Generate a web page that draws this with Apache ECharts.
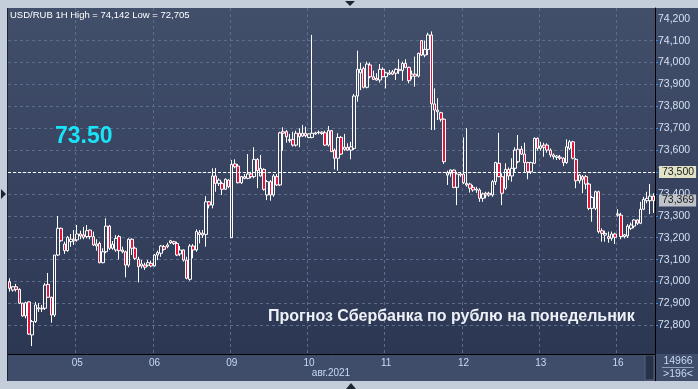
<!DOCTYPE html>
<html><head><meta charset="utf-8">
<script src="https://cdn.jsdelivr.net/npm/echarts@6/dist/echarts.min.js"></script>
<style>html,body{margin:0;padding:0;background:#c4cedb;}#c{width:698px;height:389px;}</style>
</head><body><div id="c"></div><script>
const opens=[72.999,72.961,72.976,72.964,72.901,72.843,72.907,72.756,72.817,72.875,72.878,72.878,72.987,72.928,72.847,73.121,73.243,73.171,73.141,73.182,73.193,73.190,73.217,73.213,73.205,73.235,73.205,73.162,73.174,73.086,73.136,73.253,73.152,73.144,73.205,73.144,73.136,73.075,73.193,73.152,73.101,73.071,73.075,73.075,73.083,73.071,73.121,73.129,73.159,73.159,73.177,73.182,73.174,73.126,73.144,73.098,73.010,73.162,73.144,73.223,73.212,73.215,73.364,73.349,73.482,73.448,73.448,73.421,73.463,73.200,73.537,73.527,73.451,73.479,73.471,73.491,73.479,73.558,73.482,73.512,73.395,73.456,73.395,73.479,73.441,73.684,73.684,73.649,73.649,73.623,73.677,73.664,73.677,73.658,73.658,73.674,73.679,73.682,73.679,73.623,73.689,73.600,73.563,73.658,73.604,73.613,73.600,73.608,73.847,73.953,73.973,73.887,73.989,73.935,73.928,73.920,73.969,73.935,73.947,73.958,73.951,73.969,73.963,73.996,73.978,73.938,73.947,73.938,74.100,74.034,74.060,74.126,73.811,73.783,73.771,73.741,73.486,73.494,73.509,73.430,73.491,73.491,73.448,73.445,73.430,73.418,73.418,73.380,73.403,73.395,73.395,73.456,73.540,73.479,73.426,73.512,73.482,73.517,73.547,73.604,73.582,73.543,73.501,73.540,73.654,73.608,73.623,73.623,73.600,73.578,73.567,73.568,73.563,73.543,73.608,73.638,73.558,73.460,73.479,73.479,73.445,73.334,73.334,73.410,73.232,73.212,73.205,73.197,73.217,73.303,73.303,73.205,73.208,73.243,73.253,73.281,73.266,73.330,73.369,73.369,73.390];
const closes=[72.969,72.976,72.964,72.901,72.843,72.903,72.760,72.817,72.893,72.880,72.875,72.984,72.928,72.847,73.121,73.243,73.186,73.141,73.202,73.193,73.186,73.217,73.208,73.202,73.232,73.205,73.167,73.171,73.086,73.136,73.253,73.152,73.170,73.197,73.141,73.136,73.075,73.193,73.152,73.106,73.068,73.080,73.065,73.086,73.071,73.121,73.132,73.162,73.147,73.167,73.186,73.174,73.121,73.144,73.098,73.015,73.162,73.144,73.228,73.215,73.220,73.364,73.349,73.482,73.448,73.463,73.421,73.467,73.433,73.535,73.524,73.451,73.479,73.471,73.491,73.479,73.558,73.506,73.517,73.421,73.456,73.395,73.482,73.441,73.679,73.677,73.661,73.643,73.623,73.677,73.661,73.677,73.666,73.674,73.677,73.679,73.682,73.676,73.623,73.689,73.593,73.563,73.658,73.582,73.613,73.600,73.615,73.847,73.969,73.969,73.887,73.993,73.935,73.923,73.920,73.969,73.935,73.953,73.953,73.947,73.969,73.963,73.996,73.978,73.917,73.947,73.938,74.042,74.034,74.060,74.126,73.811,73.783,73.775,73.741,73.547,73.497,73.509,73.430,73.491,73.486,73.451,73.441,73.426,73.418,73.422,73.380,73.400,73.395,73.403,73.456,73.543,73.479,73.403,73.512,73.482,73.517,73.600,73.604,73.582,73.543,73.501,73.543,73.654,73.608,73.619,73.613,73.600,73.578,73.570,73.573,73.563,73.543,73.615,73.638,73.563,73.460,73.486,73.467,73.445,73.334,73.384,73.410,73.228,73.220,73.220,73.197,73.217,73.202,73.308,73.205,73.213,73.253,73.258,73.281,73.266,73.330,73.375,73.380,73.390,73.369];
const lows=[72.954,72.954,72.954,72.897,72.839,72.832,72.756,72.705,72.811,72.861,72.861,72.870,72.925,72.812,72.838,73.116,73.182,73.126,73.136,73.159,73.167,73.182,73.193,73.193,73.197,73.193,73.162,73.141,73.083,73.083,73.129,73.144,73.145,73.136,73.101,73.129,73.019,73.065,73.121,73.098,72.996,73.060,73.053,73.068,73.065,73.068,73.098,73.113,73.141,73.152,73.171,73.167,73.116,73.116,73.091,73.010,73.004,73.106,73.136,73.174,73.199,73.159,73.334,73.334,73.410,73.436,73.395,73.418,73.426,73.199,73.517,73.448,73.445,73.467,73.467,73.471,73.471,73.426,73.479,73.415,73.372,73.369,73.387,73.436,73.436,73.597,73.634,73.634,73.616,73.616,73.613,73.661,73.658,73.654,73.654,73.670,73.672,73.670,73.619,73.616,73.593,73.512,73.506,73.578,73.597,73.597,73.558,73.600,73.821,73.874,73.882,73.882,73.928,73.920,73.917,73.908,73.932,73.882,73.943,73.943,73.920,73.948,73.917,73.974,73.905,73.923,73.890,73.932,74.030,74.024,74.034,73.692,73.692,73.737,73.730,73.537,73.441,73.479,73.426,73.349,73.478,73.445,73.433,73.406,73.410,73.405,73.364,73.364,73.380,73.387,73.387,73.441,73.476,73.349,73.418,73.463,73.456,73.501,73.540,73.578,73.501,73.467,73.491,73.537,73.597,73.597,73.570,73.588,73.567,73.558,73.555,73.555,73.527,73.537,73.600,73.558,73.426,73.448,73.403,73.421,73.326,73.273,73.326,73.220,73.182,73.182,73.177,73.186,73.171,73.296,73.193,73.197,73.199,73.235,73.243,73.258,73.262,73.326,73.357,73.308,73.313];
const highs=[73.015,72.979,72.989,72.969,72.903,72.908,72.910,72.824,72.907,72.902,72.893,72.993,73.039,72.931,73.121,73.299,73.246,73.182,73.208,73.217,73.235,73.258,73.232,73.250,73.258,73.238,73.228,73.193,73.182,73.152,73.289,73.258,73.185,73.212,73.212,73.159,73.141,73.197,73.197,73.159,73.113,73.098,73.086,73.098,73.095,73.126,73.141,73.167,73.167,73.177,73.190,73.186,73.182,73.162,73.147,73.113,73.171,73.171,73.238,73.235,73.235,73.390,73.368,73.517,73.518,73.471,73.456,73.471,73.467,73.555,73.558,73.537,73.482,73.491,73.582,73.501,73.613,73.563,73.578,73.517,73.463,73.463,73.491,73.491,73.684,73.704,73.692,73.674,73.684,73.689,73.700,73.715,73.707,73.677,74.126,73.684,73.689,73.686,73.689,73.710,73.692,73.608,73.677,73.664,73.674,73.631,73.638,73.856,74.054,73.999,73.981,74.004,73.999,73.963,73.951,73.993,73.978,73.958,73.966,73.966,73.974,74.015,74.004,74.015,73.981,73.963,74.027,74.045,74.103,74.100,74.136,74.142,73.882,73.837,73.775,73.745,73.506,73.512,73.512,73.501,73.497,73.658,73.700,73.451,73.441,73.432,73.426,73.406,73.410,73.410,73.463,73.547,73.679,73.494,73.540,73.521,73.563,73.613,73.669,73.619,73.634,73.547,73.547,73.658,73.658,73.638,73.634,73.631,73.608,73.585,73.578,73.578,73.567,73.649,73.646,73.643,73.563,73.491,73.486,73.486,73.451,73.390,73.415,73.415,73.243,73.232,73.228,73.228,73.223,73.330,73.314,73.217,73.262,73.269,73.284,73.284,73.364,73.387,73.410,73.445,73.403];
const dayLabels=['05','06','09','10','11','12','13','16'];
const dayStarts=[21,45,69,93,117,141,165,189];
const priceTicks=[72.8,72.9,73.0,73.1,73.2,73.3,73.4,73.5,73.6,73.7,73.8,73.9,74.0,74.1,74.2];
const gridTicks=[72.8,72.9,73.0,73.1,73.2,73.3,73.4,73.5,73.6,73.7,73.8,73.9,74.0,74.1];
const refLevel=73.5;
const lastPrice=73.369;
const titleText='USD/RUB 1H High = 74,142 Low = 72,705';
const bigLabel='73.50';
const caption='Прогноз Сбербанка по рублю на понедельник';
const barCountText='14966';
const visibleText='>196<';
const axisYearText='авг.2021';

const cats=opens.map((_,i)=>String(i));
const ohlc=opens.map((o,i)=>[o,closes[i],lows[i],highs[i]]);
const fmt=v=>v.toFixed(3).replace('.',',');
const isDay=i=>dayStarts.indexOf(i)>=0;

const chart=echarts.init(document.getElementById('c'),null,{renderer:'canvas'});
const font='"Liberation Sans", Arial, sans-serif';
chart.setOption({
  animation:false,
  backgroundColor:'#c4cedb',
  grid:{left:8,top:8,width:647,height:346,containLabel:false},
  xAxis:{type:'category',data:cats,boundaryGap:true,
    axisLine:{show:true,lineStyle:{color:'#000',width:1}},
    axisTick:{show:false},
    axisLabel:{interval:(i)=>isDay(i),formatter:(v,i)=>dayLabels[dayStarts.indexOf(Number(v))]||'',color:'#c6dbf5',fontSize:10,fontFamily:font,margin:4},
    splitLine:{show:true,interval:(i)=>isDay(i),lineStyle:{color:'#5c6c8b',type:[3,3],width:1}}},
  yAxis:{type:'value',position:'right',min:72.669,max:74.249,scale:true,
    axisLine:{show:true,lineStyle:{color:'#000',width:1}},
    axisTick:{show:true,customValues:gridTicks,length:3,lineStyle:{color:'#3d8df0'}},
    axisLabel:{customValues:priceTicks,formatter:fmt,color:'#d2e0f2',fontSize:10.5,fontFamily:font,margin:3},
    splitLine:{show:true,lineStyle:{color:'#5c6c8b',type:[3,3],width:1}}},
  series:[{type:'candlestick',data:ohlc,barWidth:3,
    itemStyle:{color:'rgba(0,0,0,0)',color0:'#e3133b',borderColor:'#ffffff',borderColor0:'#ffffff',borderWidth:1},
    markLine:{symbol:'none',silent:true,animation:false,
      data:[
        {yAxis:refLevel,lineStyle:{color:'#ffffff',type:[3,2],width:1},
          label:{show:true,position:'end',formatter:()=>fmt(refLevel),backgroundColor:'#e2e2c6',color:'#1a1a1a',padding:[1,2,0,3],fontSize:10.5,fontFamily:font,distance:4}},
        {yAxis:lastPrice,lineStyle:{color:'rgba(0,0,0,0)',width:0},
          label:{show:true,position:'end',formatter:()=>fmt(lastPrice),backgroundColor:'#bfc3c9',color:'#1a1a1a',padding:[1,2,0,3],fontSize:10.5,fontFamily:font,distance:4}}
      ]}
  }],
  graphic:[
    {type:'rect',z:-20,silent:true,shape:{x:8,y:8,width:690,height:346},
      style:{fill:new echarts.graphic.LinearGradient(0,0,0,1,[{offset:0,color:'#424f6b'},{offset:1,color:'#2c3754'}])}},
    {type:'rect',z:-19,silent:true,shape:{x:8,y:354,width:690,height:27},style:{fill:'#3f4d6a'}},
    {type:'rect',z:-18,silent:true,shape:{x:645,y:355,width:9,height:25},style:{fill:'#26314a',stroke:'#56637d',lineWidth:1}},
    {type:'line',z:10,silent:true,shape:{x1:655.5,y1:8,x2:655.5,y2:381},style:{stroke:'#000',lineWidth:1}},
    {type:'line',z:10,silent:true,shape:{x1:7.5,y1:8,x2:7.5,y2:381},style:{stroke:'#1c2436',lineWidth:1}},
    {type:'line',z:10,silent:true,shape:{x1:662,y1:367.5,x2:694,y2:367.5},style:{stroke:'#8fa0b8',lineWidth:1}},
    {type:'polygon',z:30,silent:true,shape:{points:[[659,172],[664,167],[664,177]]},style:{fill:'#e2e2c6'}},
    {type:'polygon',z:30,silent:true,shape:{points:[[659,201],[664,196],[664,206]]},style:{fill:'#bfc3c9'}},
    {type:'text',z:20,silent:true,style:{x:331,y:373,text:axisYearText,fill:'#c6dbf5',font:'10px '+font,textAlign:'center',textVerticalAlign:'middle'}},
    {type:'text',z:20,silent:true,style:{x:678,y:361,text:barCountText,fill:'#c6dbf5',font:'10.5px '+font,textAlign:'center',textVerticalAlign:'middle'}},
    {type:'text',z:20,silent:true,style:{x:678,y:374,text:visibleText,fill:'#c6dbf5',font:'10.5px '+font,textAlign:'center',textVerticalAlign:'middle'}},
    {type:'text',z:20,silent:true,style:{x:10,y:15,text:titleText,fill:'#ffffff',font:'9.5px '+font,textVerticalAlign:'middle'}},
    {type:'text',z:20,silent:true,style:{x:55,y:137,text:bigLabel,fill:'#19e3f7',font:'bold 23px '+font,textVerticalAlign:'middle'}},
    {type:'text',z:20,silent:true,style:{x:268,y:317,text:caption,fill:'#eef1f6',font:'bold 16px '+font,textVerticalAlign:'middle'}},
    {type:'polygon',z:20,silent:true,shape:{points:[[345,1],[355,1],[350,6]]},style:{fill:'#1d2535'}},
    {type:'polygon',z:20,silent:true,shape:{points:[[346,389],[356,389],[351,383]]},style:{fill:'#1d2535'}},
    {type:'polygon',z:20,silent:true,shape:{points:[[1,189],[1,199],[6,194]]},style:{fill:'#1d2535'}}
  ]
});
</script></body></html>
